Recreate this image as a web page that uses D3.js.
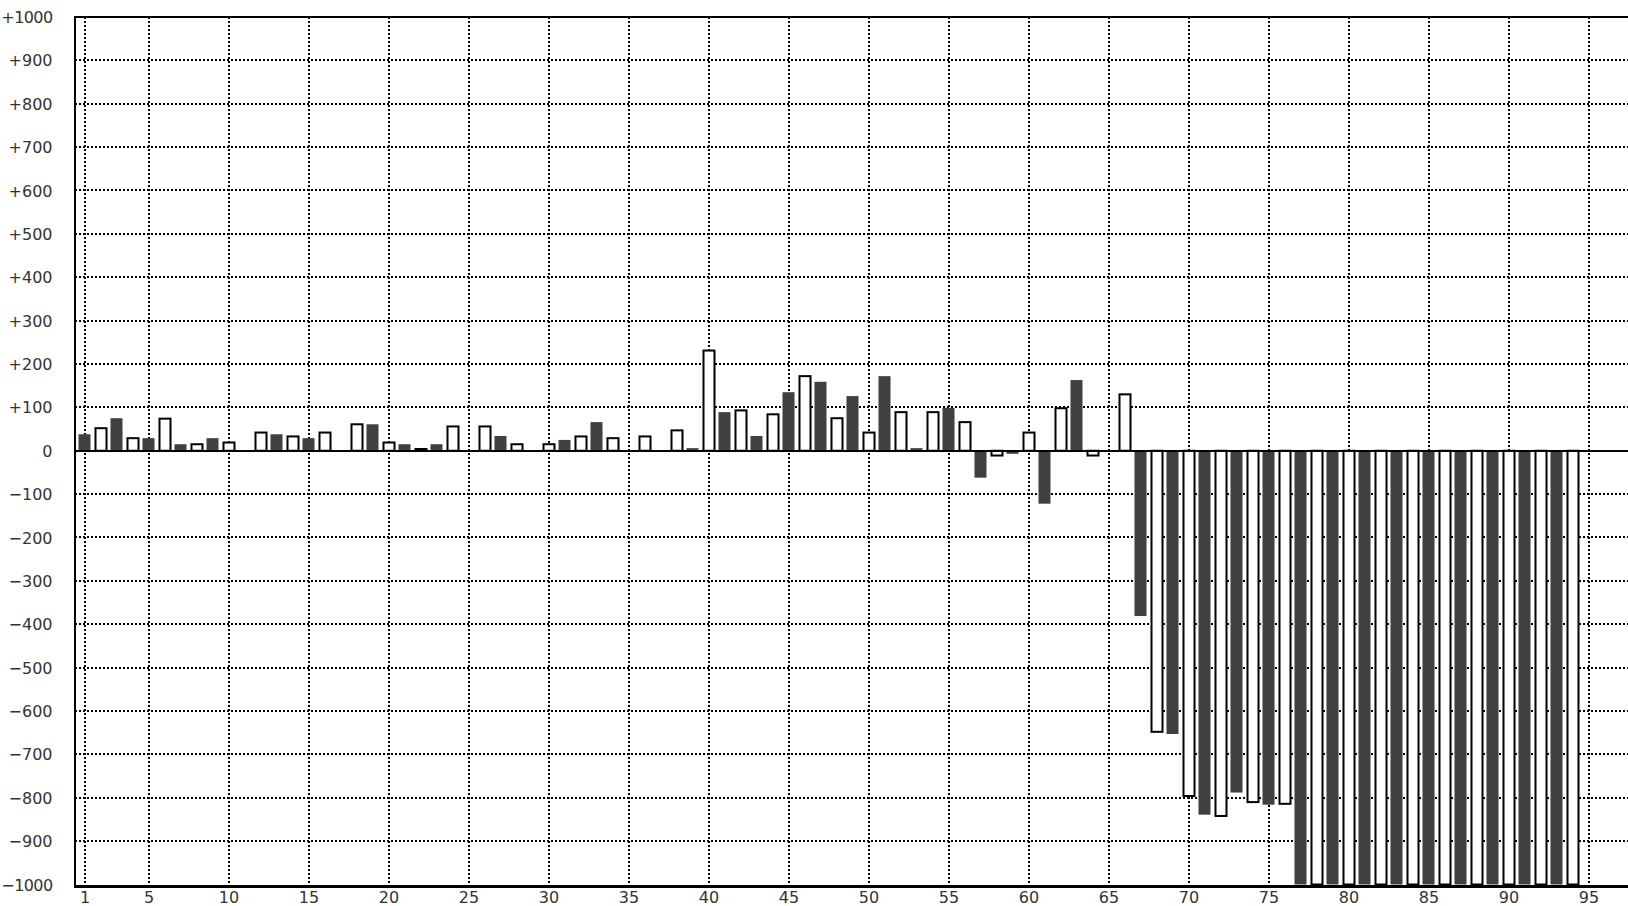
<!DOCTYPE html>
<html><head><meta charset="utf-8">
<script src="https://cdn.jsdelivr.net/npm/d3@7"></script>
<style>html,body{margin:0;padding:0;background:#fff;overflow:hidden}</style>
</head><body><svg id="c" width="1628" height="906"></svg>
<script>
// categories 1..94 ; odd = dark series, even = outlined series
const categories = d3.range(1, 95);
const values = [
  38, 52, 75, 29, 29, 74, 15, 15, 29, 19,
   0, 42, 38, 33, 29, 42,  0, 61, 61, 19,
  15,  4, 15, 56,  0, 56, 34, 15,  0, 15,
  25, 33, 66, 29,  0, 33,  0, 47,  6, 231,
  89, 93, 34, 84, 135, 172, 159, 75, 126, 42,
  172, 89, 6, 89, 99, 66, -62, -11, -7, 42,
  -122, 98, 163, -11, 0, 130, -381, -648, -653, -796,
  -839, -842, -788, -810, -816, -814, -1000, -1000, -1000, -1000,
  -1000, -1000, -1000, -1000, -1000, -1000, -1000, -1000, -1000, -1000,
  -1000, -1000, -1000, -1000
];
const xTickValues = [1, 5, 10, 15, 20, 25, 30, 35, 40, 45, 50, 55, 60, 65, 70, 75, 80, 85, 90, 95];
const yTickValues = d3.range(-1000, 1001, 100);

const svg = d3.select('#c');
const x = d3.scaleLinear().domain([0, 100]).range([69, 1669]);
const y = d3.scaleLinear().domain([-1000, 1000]).range([884.5, 17]);
const plotLeft = 75, plotRight = 1640;
const plotTop = Math.round(y(1000)), plotBottom = Math.round(y(-1000));

// grid
const grid = svg.append('g');
grid.selectAll('line.h').data(yTickValues.filter(d => Math.abs(d) < 1000 && d !== 0))
  .join('line').attr('class', 'h')
  .attr('x1', plotLeft).attr('x2', plotRight)
  .attr('y1', d => Math.round(y(d))).attr('y2', d => Math.round(y(d)))
  .attr('stroke', '#000').attr('stroke-width', 2).attr('stroke-dasharray', '2,2');
grid.selectAll('line.v').data(xTickValues)
  .join('line').attr('class', 'v')
  .attr('x1', d => Math.round(x(d))).attr('x2', d => Math.round(x(d)))
  .attr('y1', plotTop).attr('y2', plotBottom)
  .attr('stroke', '#000').attr('stroke-width', 2).attr('stroke-dasharray', '2,2');

// bars
const data = categories.map((c, i) => ({c, v: values[i]}));
const bars = svg.append('g');
bars.selectAll('rect.dark').data(data.filter(d => d.c % 2 === 1 && d.v !== 0))
  .join('rect').attr('class', 'dark')
  .attr('x', d => x(d.c) - 6.5).attr('width', 12)
  .attr('y', d => Math.min(y(d.v), y(0)))
  .attr('height', d => Math.abs(y(d.v) - y(0)))
  .attr('fill', '#404040');
bars.selectAll('rect.light').data(data.filter(d => d.c % 2 === 0 && d.v !== 0))
  .join('rect').attr('class', 'light')
  .attr('x', d => x(d.c) - 5.5).attr('width', 11)
  .attr('y', d => Math.min(y(d.v), y(0)))
  .attr('height', d => Math.abs(y(d.v) - y(0)))
  .attr('fill', '#fff').attr('stroke', '#000').attr('stroke-width', 2);

// zero line
svg.append('line').attr('x1', plotLeft).attr('x2', plotRight)
  .attr('y1', Math.round(y(0))).attr('y2', Math.round(y(0)))
  .attr('stroke', '#000').attr('stroke-width', 2);

// frame
svg.append('line').attr('x1', plotLeft).attr('x2', plotRight).attr('y1', plotTop).attr('y2', plotTop)
  .attr('stroke', '#000').attr('stroke-width', 2);
svg.append('line').attr('x1', plotLeft).attr('x2', plotLeft).attr('y1', plotTop - 1).attr('y2', plotBottom + 3)
  .attr('stroke', '#000').attr('stroke-width', 2);
svg.append('line').attr('x1', plotLeft - 1).attr('x2', plotRight).attr('y1', plotBottom + 1.5).attr('y2', plotBottom + 1.5)
  .attr('stroke', '#000').attr('stroke-width', 3);

// labels
const fmt = d => d > 0 ? '+' + d : d < 0 ? '\u2212' + (-d) : '0';
svg.append('g').selectAll('text').data(yTickValues).join('text')
  .attr('x', 52.5).attr('y', d => y(d) + 6)
  .attr('text-anchor', 'end')
  .attr('font-family', 'DejaVu Sans').attr('font-size', 16).attr('fill', '#333')
  .attr('letter-spacing', d => Math.abs(d) === 1000 ? -0.6 : 0)
  .text(fmt);
svg.append('g').selectAll('text').data(xTickValues).join('text')
  .attr('x', d => x(d)).attr('y', 903)
  .attr('text-anchor', 'middle')
  .attr('font-family', 'DejaVu Sans').attr('font-size', 16).attr('fill', '#333')
  .text(d => d);
</script></body></html>
